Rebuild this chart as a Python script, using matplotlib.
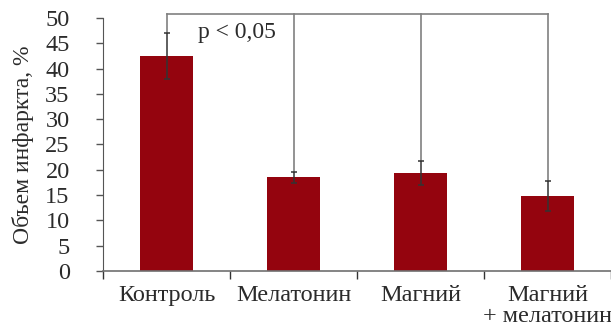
import numpy as np
import matplotlib
matplotlib.use("Agg")
from matplotlib import pyplot as plt

groups = ["Контроль", "Мелатонин", "Магний", "Магний\n+ мелатонин"]
volume = [42.5, 18.5, 19.3, 14.8]
error = [4.6, 1.1, 2.4, 3.0]
y_ticks = [0, 5, 10, 15, 20, 25, 30, 35, 40, 45, 50]
p_label = "p < 0,05"
bracket_level = 50.7

plt.rcParams["font.family"] = ["Liberation Serif", "DejaVu Serif"]
text_color = "#2b2b2b"
axis_color = "#707070"
fs = 18

fig = plt.figure(figsize=(6.11, 3.28), dpi=100)
ax = fig.add_axes([0.1686, 0.174, 0.8314, 0.771])

x = np.arange(len(groups))
ax.bar(x, volume, width=0.42, color="#94040e", zorder=2)
ax.errorbar(x, volume, yerr=error, fmt="none", ecolor="#333333",
            elinewidth=1.1, capsize=2.5, capthick=1.1, zorder=3)

# significance bracket: control vs every treatment
ax.plot([x[0], x[-1]], [bracket_level, bracket_level], color="#808080",
        lw=1.2, clip_on=False, zorder=1)
for xi, v, e in zip(x, volume, error):
    ax.plot([xi, xi], [v + e, bracket_level], color="#808080", lw=1.2,
            clip_on=False, zorder=1)
ax.text(0.25, 47.2, p_label, fontsize=17, color=text_color, va="center",
        ha="left")

ax.set_xlim(-0.5, len(groups) - 0.5)
ax.set_ylim(0, 50)
ax.set_yticks(y_ticks)
ax.set_yticklabels([str(t) for t in y_ticks], fontsize=17.5, color=text_color)
ax.set_xticks(x)
ax.set_xticklabels(groups, fontsize=17.5, color=text_color, linespacing=1.0)
ax.tick_params(axis="x", length=0, pad=10)
ax.set_xticks(np.arange(len(groups) + 1) - 0.5, minor=True)
ax.tick_params(axis="x", which="minor", length=6, color="#333333", width=1)
ax.tick_params(axis="y", length=5, color="#555555", width=1, pad=19)

ax.set_ylabel("Объем инфаркта, %", fontsize=17, color=text_color, labelpad=8)

for side in ["top", "right"]:
    ax.spines[side].set_visible(False)
ax.spines["left"].set_color("#555555")
ax.spines["bottom"].set_color(axis_color)
ax.spines["bottom"].set_linewidth(1.2)

fig.savefig("out.png", dpi=100)
